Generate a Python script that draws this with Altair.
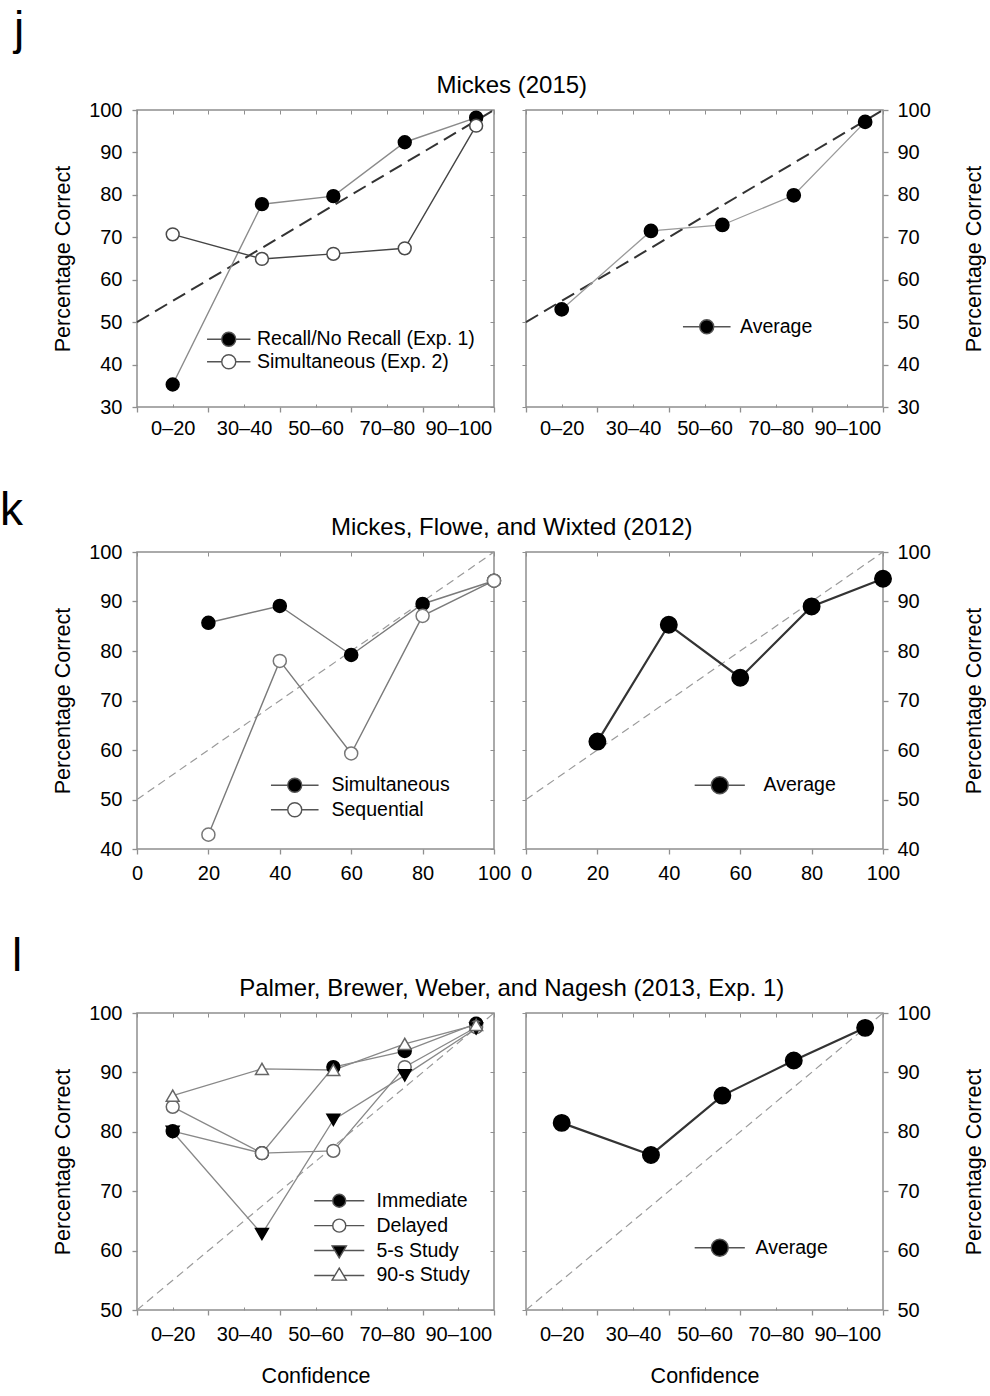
import altair as alt
import pandas as pd

FONT = "Liberation Sans, Arial, sans-serif"
FRAME = "#8f8f8f"
W, H = 357, 297

# ---------------- data ----------------
BIN_X = [10, 35, 55, 75, 95]
BIN_TICKS = [0, 20, 40, 60, 80]
BIN_LABELS = ["0–20", "30–40", "50–60", "70–80", "90–100"]

J_NAMES = ["Recall/No Recall (Exp. 1)", "Simultaneous (Exp. 2)"]
J_RECALL = [35.3, 77.8, 79.7, 92.4, 98.2]
J_SIMULT = [70.7, 64.9, 66.1, 67.4, 96.3]
J_AVG = [53.0, 71.5, 72.9, 79.9, 97.2]

K_X = [20, 40, 60, 80, 100]
K_NAMES = ["Simultaneous", "Sequential"]
K_SIMULT = [85.7, 89.1, 79.2, 89.5, 94.2]
K_SEQ = [42.9, 78.0, 59.3, 87.1, 94.2]
K_AVG = [61.7, 85.3, 74.6, 89.0, 94.6]

L_NAMES = ["Immediate", "Delayed", "5-s Study", "90-s Study"]
L_IMM = [80.1, 76.4, 90.9, 93.6, 98.2]
L_DEL = [84.2, 76.4, 76.8, 90.9, 97.6]
L_5S = [80.0, 62.8, 82.0, 89.5, 97.4]
L_90S = [86.1, 90.6, 90.4, 94.8, 98.0]
L_AVG = [81.5, 76.1, 86.1, 92.0, 97.5]

AVG_NAME = ["Average"]

DIAG_X = [0, 100]
DIAG_Y = [50, 100]

J_YTICKS = [30, 40, 50, 60, 70, 80, 90, 100]
K_YTICKS = [40, 50, 60, 70, 80, 90, 100]
L_YTICKS = [50, 60, 70, 80, 90, 100]
K_XTICKS = [0, 20, 40, 60, 80, 100]
MINOR_X = [10, 30, 50, 70, 90]


def series_df(x, names, values):
    rows = []
    for name, vals in zip(names, values):
        for xv, yv in zip(x, vals):
            rows.append({"series": name, "x": xv, "y": yv})
    return pd.DataFrame(rows)


def glyph(kind, half):
    if kind == "circle":
        return (f"M{-half},0H-1M1,0H{half}"
                "M-1,0A1,1 0 1,1 1,0A1,1 0 1,1 -1,0Z")
    if kind == "triangle-down":
        return f"M{-half},0H-0.64M0.64,0H{half}M-1.1,-0.72L1.1,-0.72L0,1.12Z"
    return f"M{-half},0H-0.64M0.64,0H{half}M-1.1,0.72L1.1,0.72L0,-1.12Z"


def make_legend(lx, ly, size, label_offset, row_pad):
    return alt.Legend(orient="none", legendX=lx, legendY=ly, title=None,
                      symbolSize=size, symbolStrokeWidth=1.4,
                      labelFont=FONT, labelFontSize=19.5, labelColor="black",
                      labelLimit=400, labelOffset=label_offset, rowPadding=row_pad,
                      padding=0)


BIN_EXPR = " : ".join(f"datum.value == {t} ? '{l}'" for t, l in zip(BIN_TICKS, BIN_LABELS)) + " : ''"


def panel(x, names, values, *, side, ydom, yticks, binned, xtitle, xlabpad,
          fills, pstrokes, shapes, lcolors, lwidth, psize,
          diag_color, diag_width, diag_dash, legend, half):
    df = series_df(x, names, values)
    xs = alt.Scale(domain=[0, 100], nice=False, zero=False)
    ys = alt.Scale(domain=ydom, nice=False, zero=False)

    xmain_kw = dict(orient="bottom", values=K_XTICKS, tickSize=5,
                    tickColor=FRAME, tickWidth=1.3, domain=False, grid=False,
                    labelFont=FONT, labelFontSize=20, labelColor="black",
                    labelPadding=xlabpad, labelFlush=False, labelOverlap=False)
    if binned:
        xmain_kw.update(labelExpr=BIN_EXPR, labelOffset=W * 0.1)
    if xtitle:
        xmain_kw.update(titleFont=FONT, titleFontSize=21.5, titleFontWeight="normal",
                        titleColor="black", titlePadding=21)
    xmain = alt.Axis(**xmain_kw)

    ymain_kw = dict(orient=side, values=yticks, tickSize=5, tickColor=FRAME, tickWidth=1.3,
                    domain=False, grid=False, labelFont=FONT, labelFontSize=20,
                    labelColor="black", titleFont=FONT, titleFontSize=21.5,
                    titleFontWeight="normal", titleColor="black", titleAngle=270)
    if side == "left":
        ymain_kw.update(labelPadding=10, titlePadding=14)
    else:
        ymain_kw.update(labelPadding=9, titlePadding=33, titleBaseline="top")
    ymain = alt.Axis(**ymain_kw)

    xtop = alt.Axis(orient="top", values=(list(range(0, 101, 10)) if binned else K_XTICKS),
                    offset=-4, tickSize=4, tickColor=FRAME, labels=False,
                    domain=False, grid=False)
    if side == "left":
        ymirror = alt.Axis(orient="right", values=yticks, offset=-4, tickSize=4,
                           tickColor=FRAME, labels=False, domain=False, grid=False)
    else:
        ymirror = alt.Axis(orient="left", values=yticks, tickSize=4, tickColor=FRAME,
                           labels=False, domain=False, grid=False)
    xminor = (alt.Axis(orient="bottom", values=MINOR_X, offset=-3,
                       tickSize=3, tickColor=FRAME, labels=False, domain=False,
                       grid=False) if binned else None)

    diag = alt.Chart(pd.DataFrame({"x": DIAG_X, "y": DIAG_Y})).mark_line(
        color=diag_color, strokeWidth=diag_width, strokeDash=diag_dash
    ).encode(
        x=alt.X("x:Q", scale=xs, axis=xmain, title=xtitle if xtitle else None),
        y=alt.Y("y:Q", scale=ys, axis=ymain, title="Percentage Correct"),
    )
    lines = alt.Chart(df).mark_line(strokeWidth=lwidth).encode(
        x=alt.X("x:Q", scale=xs, axis=xtop, title=None),
        y=alt.Y("y:Q", scale=ys, axis=ymirror, title=None),
        stroke=alt.Stroke("series:N", scale=alt.Scale(domain=names, range=lcolors), legend=None),
    )
    pts = alt.Chart(df).mark_point(opacity=1, strokeWidth=1.5, size=psize).encode(
        x=alt.X("x:Q", scale=xs, axis=xminor, title=None),
        y=alt.Y("y:Q", scale=ys, axis=None),
        fill=alt.Fill("series:N", scale=alt.Scale(domain=names, range=fills), legend=None),
        stroke=alt.Stroke("series:N", scale=alt.Scale(domain=names, range=pstrokes), legend=None),
        shape=alt.Shape("series:N", scale=alt.Scale(domain=names, range=shapes), legend=None),
    )
    # legend-only layer: no rows survive the filter, the legend comes from the scale domains
    key = alt.Chart(df).transform_filter("false").mark_point(
        opacity=1, strokeWidth=1.4
    ).encode(
        x=alt.X("x:Q", scale=xs, axis=None, title=None),
        y=alt.Y("y:Q", scale=ys, axis=None),
        fill=alt.Fill("series:N", scale=alt.Scale(domain=names, range=fills), legend=legend),
        stroke=alt.Stroke("series:N", scale=alt.Scale(domain=names, range=["#555555"] * len(names)),
                          legend=legend),
        shape=alt.Shape("series:N",
                        scale=alt.Scale(domain=names, range=[glyph(s, half) for s in shapes]),
                        legend=legend),
    )
    return (alt.layer(diag, lines, pts, key)
            .resolve_scale(stroke="independent", fill="independent", shape="independent")
            .resolve_axis(x="independent", y="independent")
            .properties(width=W, height=H))


DARK_DASH = dict(diag_color="#333333", diag_width=2, diag_dash=[14, 7])
LIGHT_DASH = dict(diag_color="#9a9a9a", diag_width=1.2, diag_dash=[8, 5])

j_left = panel(BIN_X, J_NAMES, [J_RECALL, J_SIMULT], side="left", ydom=[30, 100],
               yticks=J_YTICKS, binned=True, xtitle=None, xlabpad=6,
               fills=["black", "white"], pstrokes=["black", "#4a4a4a"],
               shapes=["circle", "circle"], lcolors=["#8a8a8a", "#444444"], lwidth=1.4,
               psize=165, **DARK_DASH, half=3.1,
               legend=make_legend(82, 219.5, 196, 18.5, 1.5))
j_right = panel(BIN_X, AVG_NAME, [J_AVG], side="right", ydom=[30, 100],
                yticks=J_YTICKS, binned=True, xtitle=None, xlabpad=6,
                fills=["black"], pstrokes=["black"], shapes=["circle"],
                lcolors=["#9a9a9a"], lwidth=1.3, psize=175, **DARK_DASH, half=3.4,
                legend=make_legend(171, 207, 196, 23.5, 3))

k_left = panel(K_X, K_NAMES, [K_SIMULT, K_SEQ], side="left", ydom=[40, 100],
               yticks=K_YTICKS, binned=False, xtitle=None, xlabpad=9,
               fills=["black", "white"], pstrokes=["black", "#777777"],
               shapes=["circle", "circle"], lcolors=["#7a7a7a", "#7a7a7a"], lwidth=1.4,
               psize=170, **LIGHT_DASH, half=3.4,
               legend=make_legend(148, 223.5, 196, 27, 3.5))
k_right = panel(K_X, AVG_NAME, [K_AVG], side="right", ydom=[40, 100],
                yticks=K_YTICKS, binned=False, xtitle=None, xlabpad=9,
                fills=["black"], pstrokes=["black"], shapes=["circle"],
                lcolors=["#333333"], lwidth=2.2, psize=270, **LIGHT_DASH, half=2.95,
                legend=make_legend(184, 223.5, 289, 34, 3))

l_left = panel(BIN_X, L_NAMES, [L_IMM, L_DEL, L_5S, L_90S], side="left", ydom=[50, 100],
               yticks=L_YTICKS, binned=True, xtitle="Confidence", xlabpad=9,
               fills=["black", "white", "black", "white"],
               pstrokes=["black", "#666666", "black", "#666666"],
               shapes=["circle", "circle", "triangle-down", "triangle-up"],
               lcolors=["#888888"] * 4, lwidth=1.3, psize=165, **LIGHT_DASH, half=3.85,
               legend=make_legend(192.5, 178, 169, 27.5, 3.9))
l_right = panel(BIN_X, AVG_NAME, [L_AVG], side="right", ydom=[50, 100],
                yticks=L_YTICKS, binned=True, xtitle="Confidence", xlabpad=9,
                fills=["black"], pstrokes=["black"], shapes=["circle"],
                lcolors=["#333333"], lwidth=2.2, psize=270, **LIGHT_DASH, half=2.95,
                legend=make_legend(184, 225, 289, 26, 3))


def row(left, right, study, letter, letter_dx, letter_offset, study_offset):
    h = alt.hconcat(left, right, spacing=32, bounds="flush",
                    title=alt.TitleParams(study, anchor="middle", fontSize=24,
                                          font=FONT, fontWeight="normal", color="black",
                                          offset=study_offset, dx=-7))
    return alt.vconcat(h, title=alt.TitleParams(letter, anchor="start", frame="group",
                                                fontSize=46, font=FONT, fontWeight="normal",
                                                color="black", dx=letter_dx,
                                                offset=letter_offset))


upper = alt.vconcat(
    row(j_left, j_right, "Mickes (2015)", "j", -123, 20, 1),
    row(k_left, k_right, "Mickes, Flowe, and Wixted (2012)", "k", -137, -19, 1),
    spacing=49,
)
chart = alt.vconcat(
    upper,
    row(l_left, l_right, "Palmer, Brewer, Weber, and Nagesh (2013, Exp. 1)", "l", -125, -4, 1),
    spacing=50,
).properties(
    padding={"left": 0, "top": 7, "right": 0, "bottom": 0},
    background="white",
).configure_view(stroke=FRAME, strokeWidth=1.5)

chart.save("out.html", embed_options={"renderer": "svg", "actions": False})
